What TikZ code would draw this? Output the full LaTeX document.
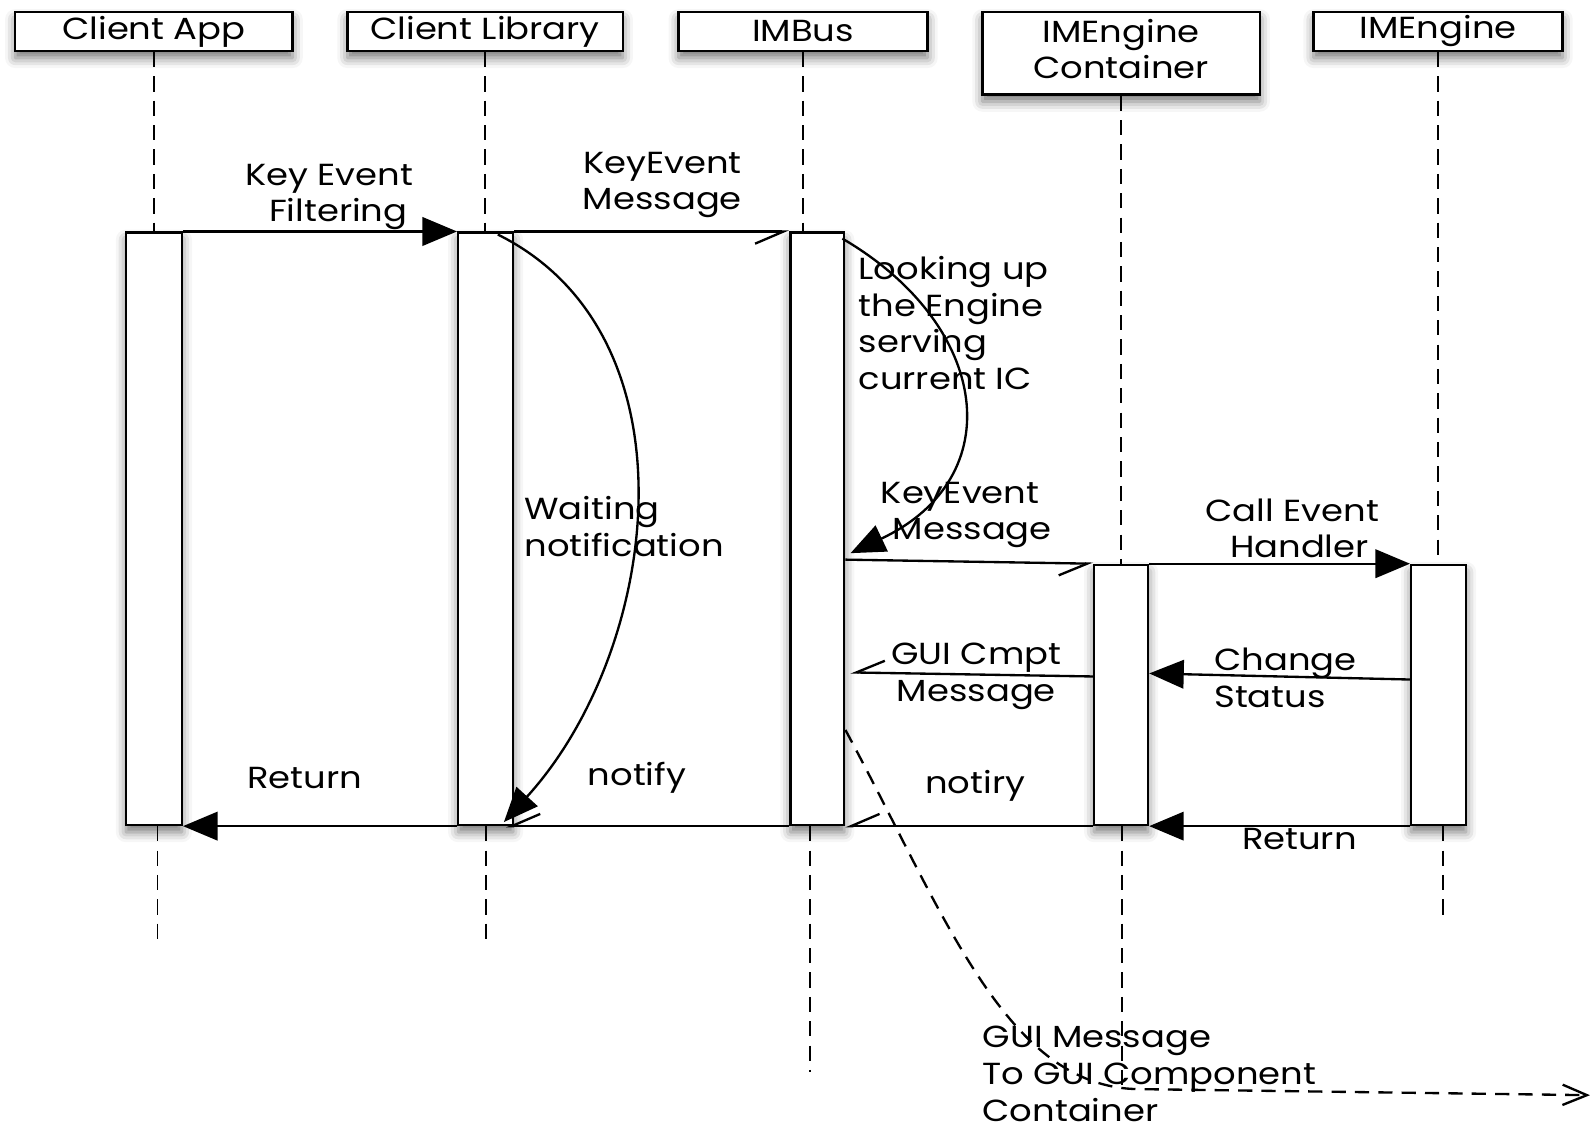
\documentclass[tikz,border=0pt]{standalone}
\usepackage{fontspec}
\setmainfont{Poppins}[FakeStretch=1.16]
\usetikzlibrary{arrows.meta,shadows.blur,calc}

\begin{document}
\begin{tikzpicture}[x=1pt,y=-1pt,
  font=\fontsize{30}{36}\selectfont,
  boxshadow/.style={blur shadow={shadow xshift=0pt,shadow yshift=-7pt,shadow blur radius=10pt,shadow opacity=55}},
  head/.style={draw,fill=white,line width=2.3pt,minimum height=38pt,inner sep=0pt,boxshadow},
  act/.style={draw,fill=white,line width=2.3pt,inner sep=0pt,boxshadow},
  life/.style={dash pattern=on 15pt off 9pt,line width=1.9pt},
  msg/.style={line width=2.3pt},
  sync/.style={msg,-{Triangle[length=34pt,width=28pt]}},
  async/.style={msg,-{Straight Barb[harpoon,swap,length=28pt,width=24pt,line width=2.3pt]}},
  lbl/.style={inner sep=0pt,align=center},
  lbll/.style={inner sep=0pt,align=left,anchor=west},
]
\useasboundingbox (0,0) rectangle (1568,1111);

% participants
\node[head,minimum width=273pt] (ca)   at (151.5,31)   {Client App};
\node[head,minimum width=271pt] (cl)   at (477.5,31)   {Client Library};
\node[head,minimum width=245pt] (bus)  at (790.5,31)   {IMBus};
\node[head,minimum width=273pt,minimum height=81pt,align=center] (cont) at (1103.5,52.5) {IMEngine\\Container\rule[-9pt]{0pt}{9pt}};
\node[head,minimum width=245pt] (eng)  at (1415.5,31)  {IMEngine};

% activation bars
\node[act,minimum width=55pt,minimum height=583pt] (aca)   at (151.5,520.5) {};
\node[act,minimum width=54pt,minimum height=583pt] (acl)   at (478,520.5)   {};
\node[act,minimum width=53pt,minimum height=583pt] (abus)  at (804.5,520.5) {};
\node[act,minimum width=53pt,minimum height=256pt] (acont) at (1103.5,684)  {};
\node[act,minimum width=54pt,minimum height=256pt] (aeng)  at (1416,684)    {};

% lifelines
\draw[life] (ca.south)   -- (ca.south |- aca.north);
\draw[life] (cl.south)   -- (cl.south |- acl.north);
\draw[life] (bus.south)  -- (bus.south |- abus.north);
\draw[life] (cont.south) -- (cont.south |- acont.north);
\draw[life] (eng.south)  -- (eng.south |- aeng.north);
\coordinate (tca) at (155,930);
\coordinate (tcl) at (478,930);
\coordinate (tbus) at (797,1055);
\coordinate (tcont) at (1104,1072);
\coordinate (teng) at (1420,905);
\draw[life] (tca |- aca.south) -- (tca);
\draw[life] (tcl |- acl.south) -- (tcl);
\draw[life] (tbus |- abus.south) -- (tbus);
\draw[life] (tcont |- acont.south) -- (tcont);
\draw[life] (teng |- aeng.south) -- (teng);

% messages
\draw[sync]  (aca.north east) -- (acl.north west);
\draw[async] (acl.north east) -- (abus.north west);
\draw[async] ($(abus.east |- acont.north)+(0,-4)$) -- (acont.north west);
\draw[sync]  (acont.north east) -- (aeng.north west);
\draw[sync]  ($(aeng.north west)+(0,114)$) -- ($(acont.north east)+(0,108)$);
\draw[async] ($(acont.north west)+(0,111)$) -- ($(abus.north east)+(5,434)$);
\draw[sync]  (aeng.south west) -- (acont.south east);
\draw[async] (acont.south west) -- (abus.south east);
\draw[async] (abus.south west) -- ($(acl.south east)+(-8,0)$);
\draw[sync]  (acl.south west) -- (aca.south east);

% self calls
\draw[sync] ($(acl.north)+(12,3)$) .. controls (690,330) and (650,640) .. ($(acl.south)+(18,-4)$);
\draw[sync] ($(abus.north east)+(-3,7)$) .. controls (975,320) and (995,470) .. ($(abus.east)+(5,24)$);

% GUI message towards the component container
\coordinate (gend) at (1565,1078);
\draw[msg,dash pattern=on 14pt off 9pt,-{Straight Barb[length=24pt,width=20pt,line width=2.3pt]}]
  ($(abus.east)+(0,198)$) .. controls (930,900) and (990,1070) .. (1120,1072) -- (gend);

% labels
\node[lbl] (l1) at (324,194) {Key Event\\\hspace*{18pt}Filtering};
\node[lbl] (l2) at (652,182) {KeyEvent\\Message};
\node[lbll] (l3) at (845,318) {Looking up\\the Engine\\serving\\current IC};
\node[lbll] (l4) at (516,518) {Waiting\\notification};
\node[lbl] (l5) at (945,507) {KeyEvent\\\hspace*{24pt}Message};
\node[lbl] (l6) at (1272,520) {Call Event\\\hspace*{14pt}Handler};
\node[lbl] (l7) at (961,666) {GUI Cmpt\\Message};
\node[lbll] (l8) at (1195,667) {Change\\Status};
\node[lbl] (l9) at (300,766) {Return};
\node[lbl] (l10) at (627,766) {notify};
\node[lbl] (l11) at (960,773) {notiry};
\node[lbl] (l12) at (1279,826) {Return};
\node[lbll] (l13) at (967,1057) {GUI Message\\To GUI Component\\Container};
\end{tikzpicture}
\end{document}
